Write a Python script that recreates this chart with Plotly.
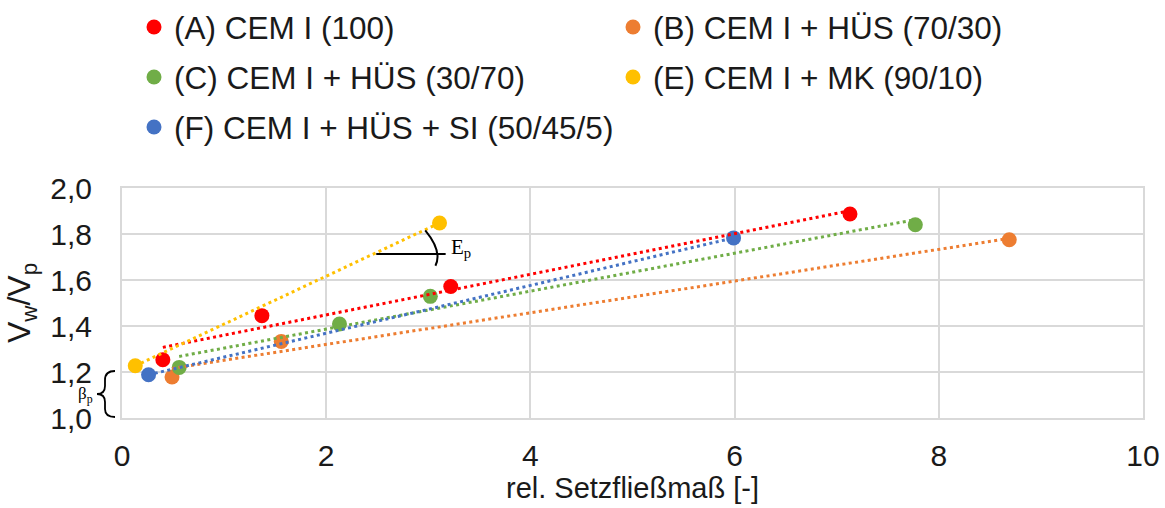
import numpy as np
import plotly.graph_objects as go

# ---- data ----
names = ["(A) CEM I (100)", "(B) CEM I + HÜS (70/30)", "(C) CEM I + HÜS (30/70)",
         "(E) CEM I + MK (90/10)", "(F) CEM I + HÜS + SI (50/45/5)"]
colors = ["#FF0000", "#ED7D31", "#70AD47", "#FFC000", "#4472C4"]

a_x = [0.40, 1.37, 3.22, 7.13]
a_y = [1.253, 1.445, 1.572, 1.887]
b_x = [0.49, 1.56, 8.69]
b_y = [1.178, 1.333, 1.775]
c_x = [0.56, 2.13, 3.02, 7.77]
c_y = [1.220, 1.409, 1.529, 1.840]
e_x = [0.13, 3.11]
e_y = [1.227, 1.848]
f_x = [0.26, 5.99]
f_y = [1.188, 1.783]

series_x = [a_x, b_x, c_x, e_x, f_x]
series_y = [a_y, b_y, c_y, e_y, f_y]
legend_ids = ["legend", "legend", "legend2", "legend2", "legend3"]

x_ticks = [0, 2, 4, 6, 8, 10]
y_ticks = [1.0, 1.2, 1.4, 1.6, 1.8, 2.0]

FONT = "Liberation Sans, Arial, sans-serif"
SERIF = "Liberation Serif, Times New Roman, serif"
TXT = "#1a1a1a"

fig = go.Figure()

# markers
for nm, col, xs, ys, lg in zip(names, colors, series_x, series_y, legend_ids):
    fig.add_trace(go.Scatter(x=xs, y=ys, mode="markers", name=nm,
                             marker=dict(color=col, size=15),
                             legend=lg, showlegend=True))

# linear trendlines (dotted)
for col, xs, ys in zip(colors, series_x, series_y):
    k, d = np.polyfit(xs, ys, 1)
    tx = np.array([min(xs), max(xs)])
    fig.add_trace(go.Scatter(x=tx, y=k * tx + d, mode="lines",
                             line=dict(color=col, width=3, dash="3px,3.4px"),
                             showlegend=False, hoverinfo="skip"))

W, H = 1165, 508
L, R, T, B = 122, 22, 188, 90

def lg(xpx, ypx):
    return dict(orientation="h", xref="container", yref="container",
                x=xpx / W, y=1 - ypx / H, xanchor="left", yanchor="middle",
                font=dict(family=FONT, size=31.5, color=TXT),
                entrywidth=434, entrywidthmode="pixels",
                bgcolor="rgba(0,0,0,0)", itemwidth=30, tracegroupgap=0)

fig.update_layout(
    width=W, height=H,
    margin=dict(l=L, r=R, t=T, b=B, autoexpand=False),
    paper_bgcolor="white", plot_bgcolor="white",
    separators=",.",
    font=dict(family=FONT, color=TXT),
    legend=lg(134, 27), legend2=lg(134, 77), legend3=lg(134, 127),
    xaxis=dict(range=[0, 10], tickvals=x_ticks, showgrid=True, gridcolor="#D9D9D9",
               gridwidth=2, zeroline=False, showline=True, linecolor="#D9D9D9",
               linewidth=2, mirror=True, ticks="", ticklabelstandoff=10,
               tickfont=dict(size=30, color=TXT),
               title=dict(text="rel. Setzfließmaß [-]", standoff=4,
                          font=dict(size=29, color=TXT))),
    yaxis=dict(range=[1.0, 2.0], tickvals=y_ticks, tickformat=".1f", showgrid=True,
               gridcolor="#D9D9D9", gridwidth=2, zeroline=False, showline=True,
               linecolor="#D9D9D9", linewidth=2, mirror=True, ticks="",
               ticklabelstandoff=22,
               tickfont=dict(size=30, color=TXT),
               title=dict(text="V<sub>w</sub>/V<sub>p</sub>", standoff=10,
                          font=dict(size=32, color=TXT))),
)

# E_p angle marker
fig.add_shape(type="line", xref="x", yref="y", x0=2.49, x1=3.17, y0=1.713, y1=1.713,
              line=dict(color="black", width=2))
fig.add_shape(type="path", xref="x", yref="y",
              path="M 2.97,1.816 Q 3.14,1.725 3.07,1.662",
              line=dict(color="black", width=2))
fig.add_annotation(x=3.2, y=1.74, xref="x", yref="y", text="E<sub>p</sub>",
                   showarrow=False, xanchor="left", yanchor="middle",
                   font=dict(family=SERIF, size=21, color="black"))

# beta_p brace at the y-axis
def px2x(p):
    return (p - L) / (W - L - R)

def py2y(p):
    return 2.0 - (p - T) / (H - T - B)

brace = [(115, 371), (105, 371), (105, 380), (105, 386), (105, 394), (97, 394),
         (105, 394), (105, 402), (105, 409), (105, 417), (115, 417)]
pts = [(px2x(a), py2y(b)) for a, b in brace]
path = "M {0[0]},{0[1]} Q {1[0]},{1[1]} {2[0]},{2[1]} L {3[0]},{3[1]} " \
       "Q {4[0]},{4[1]} {5[0]},{5[1]} Q {6[0]},{6[1]} {7[0]},{7[1]} " \
       "L {8[0]},{8[1]} Q {9[0]},{9[1]} {10[0]},{10[1]}".format(*pts)
fig.add_shape(type="path", xref="paper", yref="y", path=path,
              line=dict(color="black", width=1.8))
fig.add_annotation(x=px2x(95), y=py2y(395), xref="paper", yref="y",
                   text="β<sub>p</sub>", showarrow=False, xanchor="right",
                   yanchor="middle", font=dict(family=SERIF, size=17, color="black"))

fig.write_html("out.html", config={"displayModeBar": False},
               post_script="document.body.style.margin='0px';")
